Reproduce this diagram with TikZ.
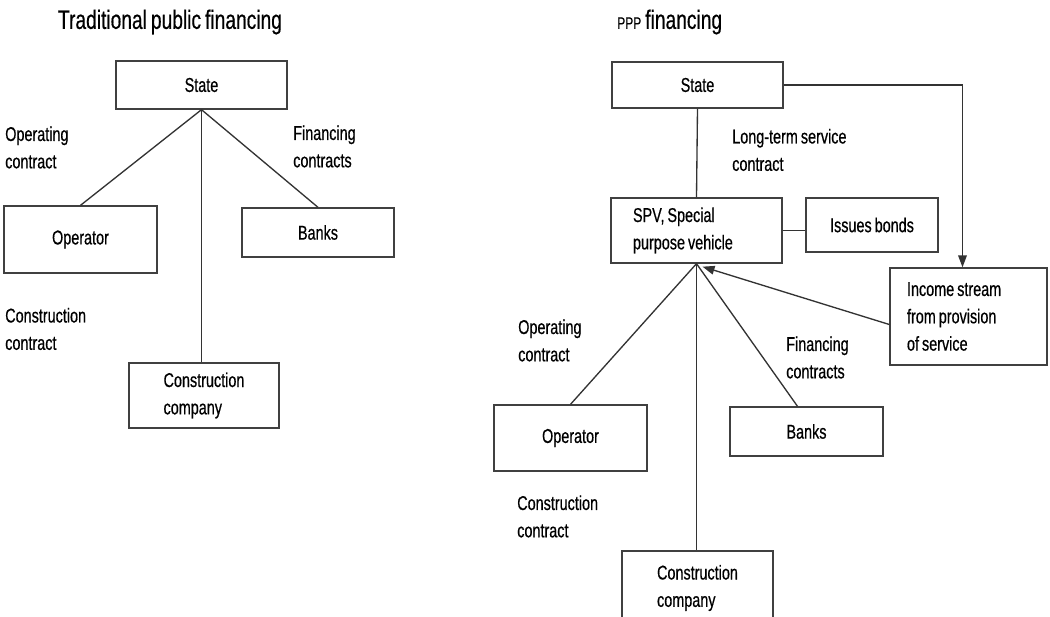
\documentclass[tikz,border=0pt]{standalone}
\usepackage{fontspec}
\setmainfont{Liberation Sans}[FakeStretch=0.72,WordSpace=0.75,FakeBold=0.5]
\usetikzlibrary{arrows.meta,calc}
\frenchspacing
\begin{document}
\begin{tikzpicture}[x=0.75pt,y=-0.75pt,
  box/.style={draw=black!75,line width=1pt,inner sep=0pt,align=center,
    font=\fontsize{15}{20.5}\selectfont},
  lbl/.style={inner sep=0pt,align=left,font=\fontsize{15}{20.5}\selectfont},
  ttl/.style={inner sep=0pt,font=\fontsize{20}{24}\selectfont},
  conn/.style={draw=black!80,line width=1pt},
  arr/.style={conn,-{Triangle[length=9pt,width=6.5pt]}}]
\useasboundingbox (0,0) rectangle (1050,617);
% ---------- left diagram ----------
\node[ttl] (t1) at (170,22) {Traditional public financing};
\node[box,minimum width=128.25pt,minimum height=36pt] (ls) at (201.5,85) {State};
\node[box,minimum width=114.75pt,minimum height=50.25pt] (lop) at (80.5,239.5) {Operator};
\node[box,minimum width=114pt,minimum height=36.75pt] (lbk) at (318,232.5) {Banks};
\node[box,minimum width=112.5pt,minimum height=48.75pt,align=left] (lcc) at (204,395.5) {Construction\\company};
\node[lbl,anchor=west] (lo) at (5,147.5) {Operating\\contract};
\node[lbl,anchor=west] (lf) at (293,146.5) {Financing\\contracts};
\node[lbl,anchor=west] (lc) at (5,329) {Construction\\contract};
\draw[conn] (ls.south) -- (lop.north);
\draw[conn] (ls.south) -- (lbk.north);
\draw[conn] (ls.south) -- (ls.south |- lcc.north);
% ---------- right diagram ----------
\node[inner sep=0pt,anchor=west] (t2) at (617,22) {{\fontsize{12.5}{14}\selectfont PPP}\hspace{3pt}{\fontsize{20}{24}\selectfont financing}};
\node[box,minimum width=128.25pt,minimum height=34.5pt] (rs) at (697.5,85) {State};
\node[box,minimum width=128.25pt,minimum height=48.75pt,align=flush left,
  inner xsep=16.5pt,text width=95.25pt] (spv) at (696.5,230.5) {SPV, Special\\purpose vehicle};
\node[box,minimum width=99pt,minimum height=40.5pt] (ib) at (872,225) {Issues bonds};
\node[box,minimum width=117.75pt,minimum height=72.75pt,align=flush left,
  inner xsep=12.75pt,text width=92.25pt] (inc) at (968.5,316.5) {Income stream\\from provision\\of service};
\node[box,minimum width=114.75pt,minimum height=49.5pt] (rop) at (570.5,438) {Operator};
\node[box,minimum width=114.75pt,minimum height=36.75pt] (rbk) at (806.5,431.5) {Banks};
\node[box,minimum width=113.25pt,minimum height=55.5pt,align=left] (rcc) at (697.5,588) {Construction\\company};
\node[lbl,anchor=west] (rl) at (732,150) {Long-term service\\contract};
\node[lbl,anchor=west] (ro) at (518,340.5) {Operating\\contract};
\node[lbl,anchor=west] (rf) at (786,357.5) {Financing\\contracts};
\node[lbl,anchor=west] (rc) at (517,516.5) {Construction\\contract};
\coordinate (bktop) at ($(rbk.north)+(-9,0)$);
\coordinate (inctop) at ($(inc.north)+(-6,0)$);
\coordinate (incw) at ($(inc.west)+(0,8)$);
\coordinate (spvtip) at ($(spv.south)+(6,3)$);
\draw[conn] (rs.south) -- (spv.north);
\draw[conn] (spv.east) -- (spv.east -| ib.west);
\draw[arr] (rs.east) -| (inctop);
\draw[arr] (incw) -- (spvtip);
\draw[conn] (spv.south) -- (rop.north);
\draw[conn] (spv.south) -- (bktop);
\draw[conn] (spv.south) -- (spv.south |- rcc.north);
\end{tikzpicture}
\end{document}
